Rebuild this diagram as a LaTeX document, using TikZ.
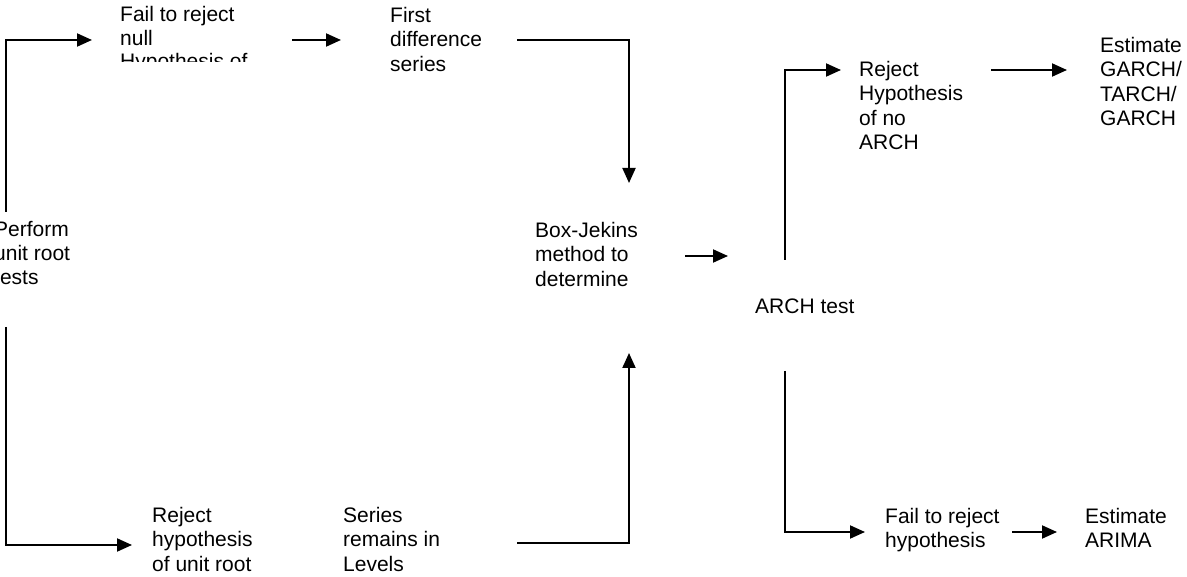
\documentclass[tikz,border=0pt]{standalone}
\usepackage{fontspec}
\setmainfont{Liberation Sans}
\usetikzlibrary{arrows.meta}
\tikzset{txt/.style={anchor=north west, inner sep=0pt, align=left, font=\fontsize{21}{24.3}\selectfont}}
\tikzset{link/.style={line width=2pt, -{Triangle[length=15pt, width=13pt]}}}

\begin{document}
\begin{tikzpicture}[x=1pt, y=-1pt]
\useasboundingbox (0,0) rectangle (1187,577);
\begin{scope}
\clip (100,0) rectangle (300,62);
\node [txt, font=\fontsize{21}{23.5}\selectfont] (failnull) at (120,6.5) {Fail to reject\\null\\Hypothesis of};
\end{scope}
\node [txt] (firstdiff) at (390,7) {First\\difference\\series};
\node [txt] (unit) at (-6,221) {Perform\\unit root\\tests};
\node [txt] (boxjen) at (535,222) {Box-Jekins\\method to\\determine};
\node [txt] (rejectunit) at (152,507) {Reject\\hypothesis\\of unit root};
\node [txt] (levels) at (343,507) {Series\\remains in\\Levels};
\node [txt] (archtest) at (755,299) {ARCH test};
\node [txt] (rejectarch) at (859,61) {Reject\\Hypothesis\\of no\\ARCH};
\node [txt] (garch) at (1100,37) {Estimate\\GARCH/\\TARCH/\\GARCH};
\node [txt] (failarch) at (885,508) {Fail to reject\\hypothesis};
\node [txt] (arima) at (1085,508) {Estimate\\ARIMA};

\coordinate (unit-up) at (6,212);
\coordinate (unit-down) at (6,327);
\coordinate (failnull-in) at (92,40);
\coordinate (failnull-out) at (292,40);
\coordinate (firstdiff-in) at (341,40);
\coordinate (firstdiff-out) at (517,40);
\coordinate (boxjen-top) at (629,183);
\coordinate (boxjen-bot) at (629,353);
\coordinate (rejectunit-in) at (132,545);
\coordinate (levels-out) at (517,543);
\coordinate (boxjen-out) at (685,256);
\coordinate (archtest-in) at (728,256);
\coordinate (archtest-up) at (785,260);
\coordinate (archtest-down) at (785,371);
\coordinate (rejectarch-in) at (841,70);
\coordinate (rejectarch-out) at (991,70);
\coordinate (garch-in) at (1067,70);
\coordinate (failarch-in) at (865,532);
\coordinate (failarch-out) at (1012,532);
\coordinate (arima-in) at (1057,532);

\draw [link] (unit-up) |- (failnull-in);
\draw [link] (failnull-out) -- (firstdiff-in);
\draw [link] (firstdiff-out) -| (boxjen-top);
\draw [link] (unit-down) |- (rejectunit-in);
\draw [link] (levels-out) -| (boxjen-bot);
\draw [link] (boxjen-out) -- (archtest-in);
\draw [link] (archtest-up) |- (rejectarch-in);
\draw [link] (rejectarch-out) -- (garch-in);
\draw [link] (archtest-down) |- (failarch-in);
\draw [link] (failarch-out) -- (arima-in);
\end{tikzpicture}
\end{document}
